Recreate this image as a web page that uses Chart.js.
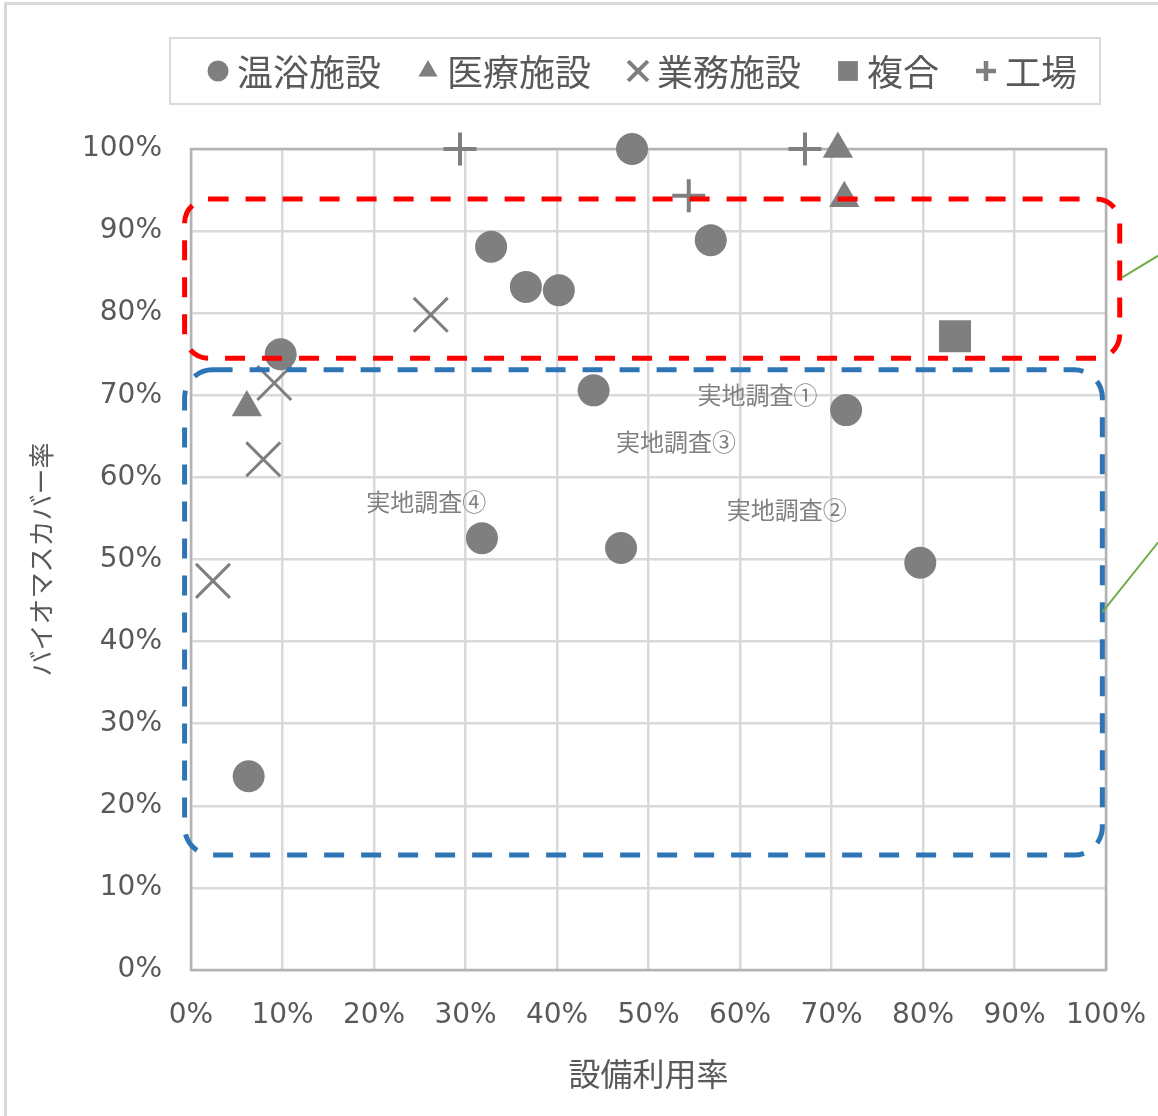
<!DOCTYPE html>
<html>
<head>
<meta charset="utf-8">
<script src="https://cdn.jsdelivr.net/npm/chart.js@4.4.1/dist/chart.umd.min.js"></script>
<style>
html,body{margin:0;padding:0;background:#fff;overflow:hidden}
#wrap{position:relative;width:1158px;height:1116px}
#frame{position:absolute;left:4px;top:2px;width:2000px;height:2000px;border-left:3px solid #d9d9d9;border-top:3px solid #d9d9d9;pointer-events:none}
canvas{position:absolute;left:0;top:0}
</style>
</head>
<body>
<div id="wrap"><div id="frame"></div><canvas id="chart" width="1158" height="1116"></canvas></div>
<script>
const JP = '"Noto Sans CJK JP", "Noto Sans", sans-serif';
const NUM = '"DejaVu Sans", "Noto Sans CJK JP", sans-serif';
const GRAY = '#7f7f7f', TXT = '#595959';

// data (percent)
const seriesNames = ['温浴施設', '医療施設', '業務施設', '複合', '工場'];
const onsenX = [9.8, 6.3, 32.8, 36.6, 40.2, 48.2, 56.8, 44.0, 71.6, 31.8, 47.0, 79.7];
const onsenY = [75.0, 23.6, 88.1, 83.2, 82.8, 100, 88.9, 70.6, 68.2, 52.6, 51.4, 49.6];
const medX = [6.1, 70.7, 71.4];
const medY = [68.5, 100, 94.0];
const officeX = [9.1, 7.9, 2.4, 26.2];
const officeY = [71.5, 62.2, 47.4, 79.8];
const mixedX = [83.5];
const mixedY = [77.2];
const factoryX = [29.4, 67.1, 54.4];
const factoryY = [100, 100, 94.3];
const ticks = [0, 10, 20, 30, 40, 50, 60, 70, 80, 90, 100];

// annotations
const surveyLabels = ['実地調査①', '実地調査③', '実地調査④', '実地調査②'];
const surveyX = [61.9, 53.0, 25.7, 65.1];
const surveyY = [70.0, 64.3, 57.0, 56.0];
const redBox = [-0.7, 74.5, 101.5, 93.9];   // x1, y1, x2, y2
const blueBox = [-0.7, 14.0, 99.6, 73.1];
const greenLines = [[101.7, 84.3, 105.7, 87.0], [99.6, 43.6, 105.7, 52.1]];

const pts = (xs, ys) => xs.map((x, i) => ({x, y: ys[i]}));

const styles = [
  {pointStyle: 'circle', pointRadius: 16, borderWidth: 0, lr: 10.5, lb: 0},
  {pointStyle: 'triangle', pointRadius: 17.5, borderWidth: 0, lr: 11, lb: 0},
  {pointStyle: 'crossRot', pointRadius: 24, borderWidth: 3, lr: 14, lb: 4},
  {pointStyle: 'rect', pointRadius: 22.6, borderWidth: 0, lr: 14, lb: 0},
  {pointStyle: 'cross', pointRadius: 16.5, borderWidth: 4, lr: 10, lb: 4.5}
];
const seriesData = [pts(onsenX, onsenY), pts(medX, medY), pts(officeX, officeY), pts(mixedX, mixedY), pts(factoryX, factoryY)];

function marker(ctx, style, r, bw, x, y){
  ctx.beginPath();
  if (style === 'circle') { ctx.arc(x, y, r, 0, Math.PI*2); ctx.fill(); }
  else if (style === 'triangle') { ctx.moveTo(x, y - r); ctx.lineTo(x + r*0.866, y + r*0.5); ctx.lineTo(x - r*0.866, y + r*0.5); ctx.closePath(); ctx.fill(); }
  else if (style === 'rect') { const s = r*Math.SQRT1_2; ctx.rect(x - s, y - s, 2*s, 2*s); ctx.fill(); }
  else if (style === 'crossRot') { const s = r*Math.SQRT1_2; ctx.lineWidth = bw; ctx.moveTo(x-s, y-s); ctx.lineTo(x+s, y+s); ctx.moveTo(x+s, y-s); ctx.lineTo(x-s, y+s); ctx.stroke(); }
  else { ctx.lineWidth = bw; ctx.moveTo(x-r, y); ctx.lineTo(x+r, y); ctx.moveTo(x, y-r); ctx.lineTo(x, y+r); ctx.stroke(); }
}

function roundBox(ctx, x1, y1, x2, y2, r){
  ctx.beginPath();
  ctx.moveTo(x1 + r, y1);
  ctx.arcTo(x2, y1, x2, y2, r);
  ctx.arcTo(x2, y2, x1, y2, r);
  ctx.arcTo(x1, y2, x1, y1, r);
  ctx.arcTo(x1, y1, x2, y1, r);
  ctx.closePath();
  ctx.stroke();
}

const decor = {
  id: 'decor',
  beforeDatasetsDraw(chart){
    const {ctx, chartArea: a} = chart;
    ctx.save();
    ctx.strokeStyle = '#b3b3b3'; ctx.lineWidth = 2.5;
    ctx.strokeRect(a.left, a.top, a.right - a.left, a.bottom - a.top);
    ctx.restore();
  },
  afterDatasetsDraw(chart){
    const {ctx, scales: {x, y}} = chart;
    ctx.save();
    ctx.lineWidth = 5; ctx.setLineDash([20, 17]);
    ctx.strokeStyle = '#ff0000';
    roundBox(ctx, x.getPixelForValue(redBox[0]), y.getPixelForValue(redBox[3]), x.getPixelForValue(redBox[2]), y.getPixelForValue(redBox[1]), 24);
    ctx.strokeStyle = '#2e75b6';
    roundBox(ctx, x.getPixelForValue(blueBox[0]), y.getPixelForValue(blueBox[3]), x.getPixelForValue(blueBox[2]), y.getPixelForValue(blueBox[1]), 28);
    ctx.setLineDash([]);
    ctx.strokeStyle = '#70ad47'; ctx.lineWidth = 2;
    greenLines.forEach(l => {
      ctx.beginPath();
      ctx.moveTo(x.getPixelForValue(l[0]), y.getPixelForValue(l[1]));
      ctx.lineTo(x.getPixelForValue(l[2]), y.getPixelForValue(l[3]));
      ctx.stroke();
    });
    ctx.fillStyle = '#808080'; ctx.font = `24px ${JP}`;
    ctx.textAlign = 'center'; ctx.textBaseline = 'middle';
    surveyLabels.forEach((t, i) => ctx.fillText(t, x.getPixelForValue(surveyX[i]), y.getPixelForValue(surveyY[i])));
    ctx.restore();
  },
  afterDraw(chart){
    const {ctx} = chart;
    ctx.save();
    ctx.strokeStyle = '#d9d9d9'; ctx.lineWidth = 2;
    ctx.strokeRect(170, 38, 930, 66);
    ctx.font = `36px ${JP}`; ctx.textBaseline = 'middle'; ctx.textAlign = 'left';
    let px = 208;
    seriesNames.forEach((name, i) => {
      ctx.fillStyle = GRAY; ctx.strokeStyle = GRAY;
      marker(ctx, styles[i].pointStyle, styles[i].lr, styles[i].lb, px + 10, 71);
      ctx.fillStyle = TXT;
      ctx.fillText(name, px + 29, 72);
      px += 29 + ctx.measureText(name).width + 37;
    });
    ctx.restore();
  }
};

const axis = (title, fit, titlePad, tickPad, titleSize) => ({
  type: 'linear', min: 0, max: 100,
  afterBuildTicks: s => { s.ticks = ticks.map(v => ({value: v})); },
  afterFit: s => { fit(s); s.paddingLeft = s.paddingRight = s.paddingTop = s.paddingBottom = 0; },
  border: {display: false},
  grid: {color: '#d9d9d9', lineWidth: 2.5, drawTicks: false},
  ticks: {color: TXT, font: {family: NUM, size: 28}, padding: tickPad, callback: v => v + '%'},
  title: {display: true, text: title, color: TXT, font: {family: JP, size: titleSize}, padding: titlePad}
});

new Chart(document.getElementById('chart'), {
  type: 'scatter',
  data: {
    datasets: seriesNames.map((name, i) => ({
      label: name, data: seriesData[i],
      pointStyle: styles[i].pointStyle, pointRadius: styles[i].pointRadius,
      borderWidth: styles[i].borderWidth,
      backgroundColor: GRAY, borderColor: GRAY, clip: false
    }))
  },
  options: {
    responsive: false, animation: false, events: [],
    layout: {padding: {top: 149, right: 52, left: 0, bottom: 0}},
    plugins: {legend: {display: false}, tooltip: {enabled: false}},
    scales: {
      x: axis('設備利用率', s => { s.height = 146; }, {top: 0, bottom: 23}, 29, 32),
      y: axis('バイオマスカバー率', s => { s.width = 191; }, {top: 26, bottom: 0}, 29, 26)
    }
  },
  plugins: [decor]
});
</script>
</body>
</html>
